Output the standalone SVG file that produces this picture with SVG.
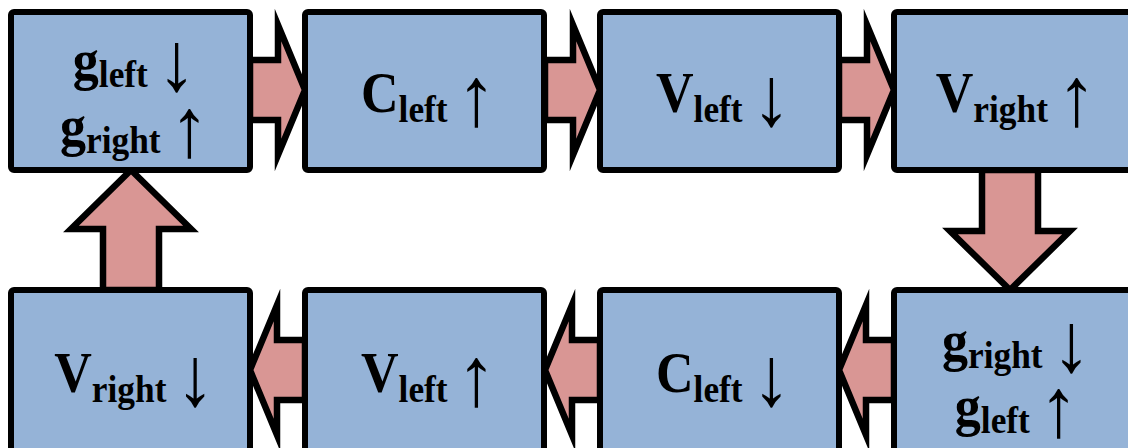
<svg xmlns="http://www.w3.org/2000/svg" width="1128" height="448" viewBox="0 0 1128 448">
  <style>
    .box { fill: #95B3D7; stroke: #000; stroke-width: 6; }
    .arr { fill: #D99694; stroke: #000; stroke-width: 6.5; stroke-linejoin: miter; stroke-miterlimit: 10; }
    .lbl { font-family: "Liberation Serif", "Times New Roman", serif; font-weight: bold; font-size: 56px; fill: #000; }
    .sub { font-size: 38px; }
    .dir { font-weight: normal; font-size: 84px; }
  </style>
  <defs>
    <!-- right-pointing block arrow, tip at origin -->
    <polygon id="arrowR" points="-55,-30 -27,-30 -27,-65 0,0 -27,65 -27,30 -55,30"/>
    <!-- vertical block arrow pointing down, tip at origin -->
    <polygon id="arrowD" points="-28,-120 28,-120 28,-59 60,-59 0,0 -60,-59 -28,-59"/>
  </defs>

  <!-- connectors -->
  <g id="connectors">
    <use href="#arrowR" class="arr" transform="translate(305,90)"/>
    <use href="#arrowR" class="arr" transform="translate(600,90)"/>
    <use href="#arrowR" class="arr" transform="translate(894,90)"/>
    <use href="#arrowD" class="arr" transform="translate(1010,290)"/>
    <use href="#arrowR" class="arr" transform="translate(839,370) scale(-1,1)"/>
    <use href="#arrowR" class="arr" transform="translate(545,370) scale(-1,1)"/>
    <use href="#arrowR" class="arr" transform="translate(250,370) scale(-1,1)"/>
    <use href="#arrowD" class="arr" transform="translate(131,170) scale(1,-1)"/>
  </g>

  <!-- top row -->
  <g id="n1">
    <rect class="box" x="11" y="12" width="239" height="158" rx="3"/>
    <text class="lbl" text-anchor="middle" transform="translate(134.5,79) scale(0.93,1)">g<tspan class="sub" dy="8">left</tspan><tspan class="dir" dx="10" dy="3">↓</tspan></text>
    <text class="lbl" text-anchor="middle" transform="translate(134.5,145) scale(0.93,1)">g<tspan class="sub" dy="8">right</tspan><tspan class="dir" dx="10" dy="3">↑</tspan></text>
  </g>
  <g id="n2">
    <rect class="box" x="305" y="12" width="239" height="158" rx="3"/>
    <text class="lbl" text-anchor="middle" transform="translate(428.5,112) scale(0.93,1)">C<tspan class="sub" dy="10">left</tspan><tspan class="dir" dx="10" dy="3">↑</tspan></text>
  </g>
  <g id="n3">
    <rect class="box" x="600" y="12" width="239" height="158" rx="3"/>
    <text class="lbl" text-anchor="middle" transform="translate(723.5,112) scale(0.93,1)">V<tspan class="sub" dy="10">left</tspan><tspan class="dir" dx="10" dy="3">↓</tspan></text>
  </g>
  <g id="n4">
    <rect class="box" x="894" y="12" width="239" height="158" rx="3"/>
    <text class="lbl" text-anchor="middle" transform="translate(1016,112) scale(0.93,1)">V<tspan class="sub" dy="10">right</tspan><tspan class="dir" dx="10" dy="3">↑</tspan></text>
  </g>

  <!-- bottom row -->
  <g id="n5">
    <rect class="box" x="894" y="290" width="239" height="170" rx="3"/>
    <text class="lbl" text-anchor="middle" transform="translate(1016.5,360) scale(0.93,1)">g<tspan class="sub" dy="8">right</tspan><tspan class="dir" dx="10" dy="3">↓</tspan></text>
    <text class="lbl" text-anchor="middle" transform="translate(1016.5,425) scale(0.93,1)">g<tspan class="sub" dy="8">left</tspan><tspan class="dir" dx="10" dy="3">↑</tspan></text>
  </g>
  <g id="n6">
    <rect class="box" x="600" y="290" width="239" height="170" rx="3"/>
    <text class="lbl" text-anchor="middle" transform="translate(723.5,392) scale(0.93,1)">C<tspan class="sub" dy="10">left</tspan><tspan class="dir" dx="10" dy="3">↓</tspan></text>
  </g>
  <g id="n7">
    <rect class="box" x="305" y="290" width="239" height="170" rx="3"/>
    <text class="lbl" text-anchor="middle" transform="translate(428.5,392) scale(0.93,1)">V<tspan class="sub" dy="10">left</tspan><tspan class="dir" dx="10" dy="3">↑</tspan></text>
  </g>
  <g id="n8">
    <rect class="box" x="11" y="290" width="239" height="170" rx="3"/>
    <text class="lbl" text-anchor="middle" transform="translate(134.5,392) scale(0.93,1)">V<tspan class="sub" dy="10">right</tspan><tspan class="dir" dx="10" dy="3">↓</tspan></text>
  </g>
</svg>
